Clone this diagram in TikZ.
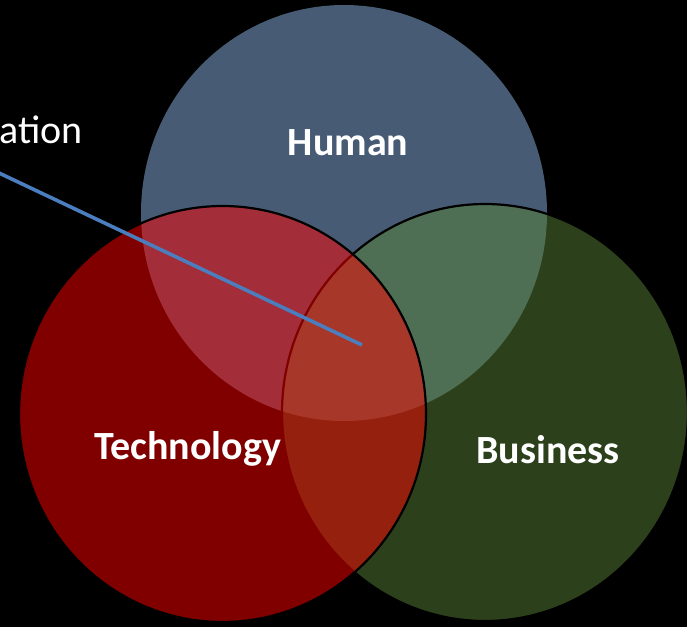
\documentclass[tikz,border=0pt]{standalone}
\usepackage{fontspec}
\setmainfont{Carlito}
\definecolor{humanc}{RGB}{71,92,116}
\definecolor{busc}{RGB}{88,130,54}
\definecolor{techc}{RGB}{255,0,0}
\definecolor{linec}{RGB}{74,126,190}
\tikzset{
  lbl/.style={text=white,font=\fontsize{40}{48}\selectfont\bfseries,anchor=base,inner sep=0pt},
  outl/.style={draw=black,line width=2.2pt,fill opacity=0.5,draw opacity=1},
}
\begin{document}
\begin{tikzpicture}[x=1pt,y=-1pt]
\useasboundingbox (0,0) rectangle (687,627);
\fill[black] (0,0) rectangle (687,627);
% Human
\fill[humanc] (344,213) ellipse [x radius=203, y radius=208];
% Business
\path[outl,fill=busc] (485,412.5) ellipse [x radius=203, y radius=208.5];
% Technology
\path[outl,fill=techc] (222.5,414) ellipse [x radius=203.5, y radius=208];
% pointer line
\coordinate (lstart) at (-2,172.5);
\coordinate (lend) at (362,345);
\draw[linec,line width=3.6pt] (lstart) -- (lend);
% labels
\node[lbl] (human) at (348,155) {Human};
\node[lbl] (tech) at (187.5,459) {Technology};
\node[lbl] (bus) at (548,463) {Business};
\node[text=white,font=\fontsize{40}{48}\selectfont,anchor=base east,inner sep=0pt] (ation) at (83,143) {ation};
\end{tikzpicture}
\end{document}
